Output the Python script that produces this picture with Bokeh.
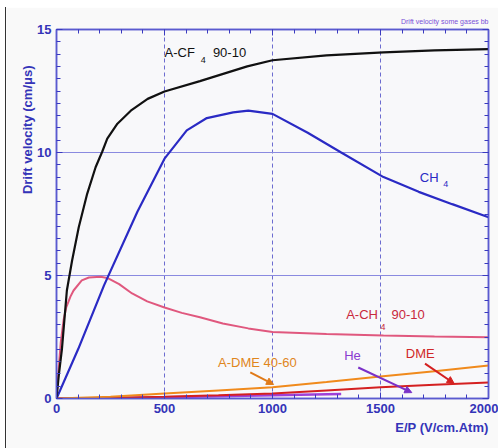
from bokeh.plotting import figure
from bokeh.models import (FixedTicker, LinearAxis, Label, Arrow, NormalHead,
                          Range1d, CustomJSTickFormatter, Title)
from bokeh.embed import file_html
from bokeh.resources import INLINE

# Drift velocity (cm/us) versus reduced field E/P (V/cm.Atm)
ep_cf4 = [0, 10, 25, 48, 72, 103, 142, 181, 212, 235, 282, 344, 422, 500, 664, 883, 1000, 1250, 1514, 1750, 2000]
v_cf4 = [0, 0.9, 2.0, 4.39, 5.6, 6.96, 8.32, 9.4, 10.04, 10.56, 11.17, 11.7, 12.18, 12.48, 12.9, 13.5, 13.75, 13.95, 14.07, 14.15, 14.2]

ep_ch4 = [0, 100, 220, 375, 500, 603, 696, 818, 888, 1000, 1163, 1318, 1514, 1677, 1832, 2000]
v_ch4 = [0, 2.0, 4.6, 7.6, 9.75, 10.9, 11.4, 11.63, 11.7, 11.57, 10.8, 10.0, 9.0, 8.4, 7.9, 7.37]

ep_ach4 = [0, 10, 20, 33, 45, 65, 79, 117, 150, 204, 235, 290, 350, 420, 500, 580, 664, 770, 888, 1000, 1250, 1514, 1750, 2000]
v_ach4 = [0, 1.2, 2.3, 3.2, 3.7, 4.15, 4.39, 4.8, 4.92, 4.95, 4.9, 4.65, 4.27, 3.95, 3.7, 3.48, 3.3, 3.05, 2.85, 2.7, 2.62, 2.56, 2.52, 2.49]

ep_adme = [0, 250, 500, 750, 1000, 1250, 1500, 1750, 2000]
v_adme = [0, 0.07, 0.2, 0.33, 0.46, 0.67, 0.89, 1.11, 1.34]

ep_dme = [0, 200, 500, 750, 1000, 1250, 1500, 1750, 2000]
v_dme = [0, 0.01, 0.07, 0.13, 0.2, 0.33, 0.46, 0.56, 0.65]

ep_he = [0, 250, 500, 750, 1000, 1318]
v_he = [0, 0.02, 0.05, 0.09, 0.13, 0.18]

x_ticks = [0, 500, 1000, 1500, 2000]
y_ticks = [0, 5, 10, 15]

AXIS_BLUE = "#3a3ac0"
TEXT_BLUE = "#3434b8"
FONT = "Liberation Sans"

p = figure(width=493, height=441, x_range=Range1d(0, 2000), y_range=Range1d(0, 15),
           output_backend="svg", toolbar_location=None,
           min_border_left=50, min_border_right=11, min_border_top=22, min_border_bottom=50,
           background_fill_color="#f8f8fa", border_fill_color="#f9f9f9")
p.styles = {"margin-left": "5px", "margin-top": "7px", "border-left": "1px solid #333"}

p.outline_line_color = "#5a5ad0"
p.outline_line_width = 1.5

# caption in the top right corner
p.title.text = "Drift velocity some gases bb"
p.title.align = "right"
p.title.text_font = FONT
p.title.text_font_size = "7px"
p.title.text_font_style = "normal"
p.title.text_color = "#7a50d8"

x_ticker = FixedTicker(ticks=x_ticks, minor_ticks=list(range(0, 2001, 100)))
y_ticker = FixedTicker(ticks=y_ticks, minor_ticks=[i * 0.5 for i in range(31)])

blank = CustomJSTickFormatter(code="return ''")
p.add_layout(LinearAxis(ticker=x_ticker, formatter=blank), "above")
p.add_layout(LinearAxis(ticker=y_ticker, formatter=blank), "right")

p.xaxis[0].ticker = x_ticker
p.yaxis[0].ticker = y_ticker
for ax in p.axis:
    ax.axis_line_color = "#5a5ad0"
    ax.axis_line_width = 1.5
    ax.major_tick_in = 6
    ax.major_tick_out = 0
    ax.minor_tick_in = 4
    ax.minor_tick_out = 0
    ax.major_tick_line_color = AXIS_BLUE
    ax.minor_tick_line_color = AXIS_BLUE
    ax.major_label_text_color = TEXT_BLUE
    ax.major_label_text_font = FONT
    ax.major_label_text_font_style = "bold"
    ax.major_label_text_font_size = "13px"
    ax.major_label_standoff = 5
p.xaxis[0].major_label_standoff = 9

# axis titles
p.add_layout(Title(text="Drift velocity (cm/\u03bcs)", align="right", offset=36, standoff=0,
                   text_color=TEXT_BLUE, text_font=FONT, text_font_size="13px",
                   text_font_style="bold"), "left")
p.add_layout(Title(text="E/P (V/cm.Atm)", align="right", standoff=4,
                   text_color=TEXT_BLUE, text_font=FONT, text_font_size="13px",
                   text_font_style="bold"), "below")

p.xgrid.ticker = FixedTicker(ticks=[500, 1000, 1500])
p.xgrid.grid_line_color = "#6c6cd0"
p.xgrid.grid_line_dash = "4 3"
p.xgrid.grid_line_width = 1
p.ygrid.ticker = FixedTicker(ticks=[5, 10])
p.ygrid.grid_line_color = "#8a8ae0"
p.ygrid.grid_line_width = 1

# curves
p.line(ep_he, v_he, line_color="#a040d8", line_width=2.5)
p.line(ep_dme, v_dme, line_color="#d42020", line_width=2)
p.line(ep_adme, v_adme, line_color="#f08a1c", line_width=2)
p.line(ep_ach4, v_ach4, line_color="#e0587e", line_width=2)
p.line(ep_ch4, v_ch4, line_color="#2a2ac4", line_width=2.2)
p.line(ep_cf4, v_cf4, line_color="#111111", line_width=2.2)

def text(x, y, s, color, size="13px", align="left", baseline="middle"):
    p.add_layout(Label(x=x, y=y, text=s, text_color=color, text_font=FONT,
                       text_font_size=size, text_align=align, text_baseline=baseline))

# curve labels (with subscripts)
text(500, 14.07, "A-CF", "#111111")
text(668, 13.78, "4", "#111111", size="9px")
text(724, 14.07, "90-10", "#111111")

text(1682, 8.98, "CH", "#2a2ac4")
text(1790, 8.7, "4", "#2a2ac4", size="9px")

text(1341, 3.41, "A-CH", "#c8283c")
text(1500, 2.89, "4", "#c8283c", size="9px")
text(1551, 3.41, "90-10", "#c8283c")

text(748, 1.46, "A-DME 40-60", "#e0861c")
text(1332, 1.75, "He", "#8a3cd0")
text(1617, 1.83, "DME", "#d02828")

# arrows pointing at the lower curves
arrows = [
    (897, 1.06, 1005, 0.57, "#e07a18"),
    (1397, 1.26, 1645, 0.24, "#7a30c8"),
    (1706, 1.42, 1841, 0.61, "#d42020"),
]
for xs, ys, xe, ye, c in arrows:
    p.add_layout(Arrow(x_start=xs, y_start=ys, x_end=xe, y_end=ye, line_color=c, line_width=2,
                       end=NormalHead(size=7, fill_color=c, line_color=c)))

open("out.html", "w").write(file_html(p, INLINE))
